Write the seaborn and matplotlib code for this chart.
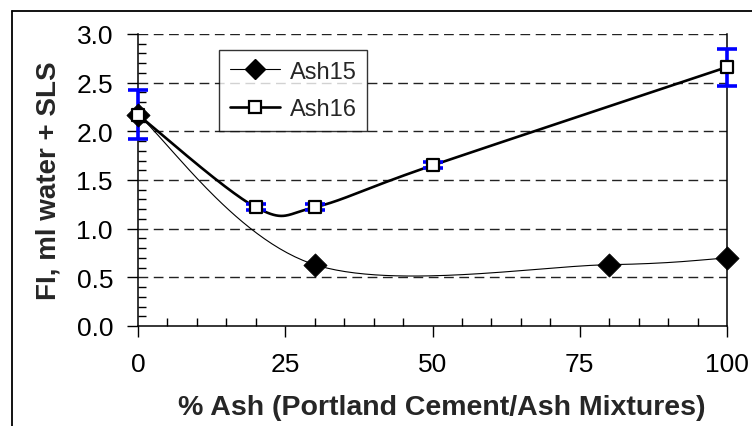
import numpy as np
import pandas as pd
import seaborn as sns
import matplotlib
matplotlib.use("Agg")
import matplotlib.pyplot as plt
from matplotlib.lines import Line2D

# Fluid index (FI) of Portland cement / ash mixtures
ash15_pct = [0, 30, 80, 100]
ash15_fi = [2.17, 0.63, 0.63, 0.70]

ash16_pct = [0, 20, 30, 50, 100]
ash16_fi = [2.17, 1.22, 1.22, 1.65, 2.66]
ash16_err = [0.25, 0.03, 0.03, 0.03, 0.19]

series_names = ["Ash15", "Ash16"]
x_ticks = [0, 25, 50, 75, 100]
y_ticks = [0.0, 0.5, 1.0, 1.5, 2.0, 2.5, 3.0]


def smooth_curve(xs, ys, n=60):
    """Bezier smoothing through every point (tangent = (P[i+1]-P[i-1])/6)."""
    p = np.column_stack([xs, ys]).astype(float)
    ext = np.vstack([p[0], p, p[-1]])
    out = []
    for i in range(len(p) - 1):
        p0, p3 = p[i], p[i + 1]
        p1 = p0 + (ext[i + 2] - ext[i]) / 6.0
        p2 = p3 - (ext[i + 3] - ext[i + 1]) / 6.0
        t = np.linspace(0, 1, n)[:, None]
        seg = ((1 - t) ** 3) * p0 + 3 * ((1 - t) ** 2) * t * p1 \
            + 3 * (1 - t) * t ** 2 * p2 + t ** 3 * p3
        out.append(seg if i == 0 else seg[1:])
    c = np.vstack(out)
    return c[:, 0], c[:, 1]


sns.set_theme(style="white")
plt.rcParams["font.family"] = ["Liberation Sans", "DejaVu Sans"]

fig = plt.figure(figsize=(7.52, 4.27), dpi=100)
W, H = 752, 427
ax = fig.add_axes([138 / W, 1 - 327 / H, (727 - 138) / W, (327 - 35) / H])

# smoothed connecting curves
c15x, c15y = smooth_curve(ash15_pct, ash15_fi)
c16x, c16y = smooth_curve(ash16_pct, ash16_fi)
sns.lineplot(x=c15x, y=c15y, sort=False, estimator=None, color="black",
             linewidth=0.8, ax=ax, zorder=3)
sns.lineplot(x=c16x, y=c16y, sort=False, estimator=None, color="black",
             linewidth=1.9, ax=ax, zorder=3)

# error bars on Ash16
ax.errorbar(ash16_pct, ash16_fi, yerr=ash16_err, fmt="none", ecolor="#0000ff",
            elinewidth=2.6, capsize=7, capthick=2.6, zorder=4, clip_on=False)

# markers
df15 = pd.DataFrame({"pct": ash15_pct, "fi": ash15_fi})
df16 = pd.DataFrame({"pct": ash16_pct, "fi": ash16_fi})
sns.scatterplot(data=df15, x="pct", y="fi", marker="D", s=140, color="black",
                edgecolor="black", linewidth=0.5, ax=ax, zorder=5, clip_on=False)
sns.scatterplot(data=df16, x="pct", y="fi", marker="s", s=80, color="white",
                edgecolor="black", linewidth=1.6, ax=ax, zorder=6, clip_on=False)

ax.set_xlim(0, 100)
ax.set_ylim(0, 3.0)
ax.set_xticks(x_ticks)
ax.set_xticklabels([str(v) for v in x_ticks])
ax.set_yticks(y_ticks)
ax.set_yticklabels([f"{v:.1f}" for v in y_ticks])
ax.set_xticks(np.arange(0, 101, 5), minor=True)
ax.set_yticks(np.arange(0, 3.01, 0.1), minor=True)

for yv in y_ticks[1:]:
    ax.axhline(yv, color="#222222", linewidth=1.0, dashes=(7, 4), zorder=1)

ax.tick_params(axis="both", which="major", direction="out", length=8,
               width=1.0, color="black", labelsize=19, labelcolor="black")
ax.tick_params(axis="x", which="major", pad=11)
ax.tick_params(axis="y", which="major", pad=10)
ax.tick_params(axis="both", which="minor", direction="in", length=6,
               width=1.0, color="black")
ax.tick_params(bottom=True, left=True, which="both")

for side in ["left", "bottom", "right"]:
    ax.spines[side].set_visible(True)
    ax.spines[side].set_color("black")
    ax.spines[side].set_linewidth(1.1)
ax.spines["top"].set_visible(False)

ax.set_xlabel("% Ash (Portland Cement/Ash Mixtures)", fontsize=20.5,
              fontweight="bold")
ax.set_ylabel("FI, ml water + SLS", fontsize=20, fontweight="bold")
ax.xaxis.set_label_coords(0.516, -0.277)
ax.yaxis.set_label_coords(-0.152, 0.5)
ax.yaxis.label.set_verticalalignment("center")
ax.xaxis.label.set_verticalalignment("center")

handles = [
    Line2D([0], [0], color="black", linewidth=0.8, marker="D", markersize=10,
           markerfacecolor="black", markeredgecolor="black"),
    Line2D([0], [0], color="black", linewidth=1.9, marker="s", markersize=9,
           markerfacecolor="white", markeredgecolor="black", markeredgewidth=1.6),
]
leg = ax.legend(handles, series_names, loc="upper left",
                bbox_to_anchor=((219 - 138) / 589, (327 - 51) / 292),
                borderaxespad=0, frameon=True, fancybox=False, fontsize=17,
                handlelength=2.15, handletextpad=0.4, borderpad=0.45,
                labelspacing=0.65)
leg.get_frame().set_edgecolor("black")
leg.get_frame().set_linewidth(1.0)
leg.set_zorder(10)

# outer chart frame
fig.add_artist(Line2D([12 / W, 12 / W], [0, 1 - 12 / H], color="black",
                      linewidth=1.3, transform=fig.transFigure))
fig.add_artist(Line2D([12 / W, 1], [1 - 12 / H, 1 - 12 / H], color="black",
                      linewidth=1.3, transform=fig.transFigure))

fig.savefig("out.png", dpi=100)
